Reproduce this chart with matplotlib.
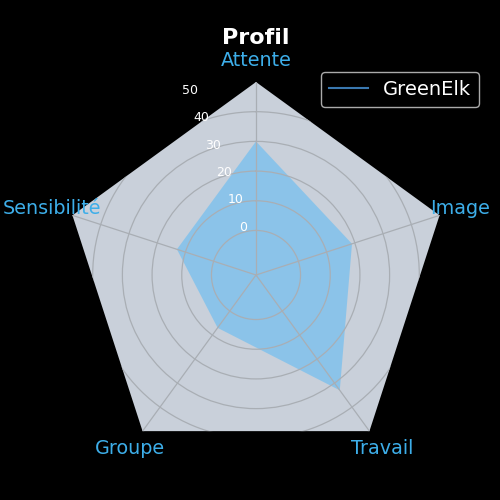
import numpy as np
import matplotlib
matplotlib.use("Agg")
import matplotlib.pyplot as plt
from matplotlib.patches import RegularPolygon
from matplotlib.path import Path
from matplotlib.projections import register_projection
from matplotlib.projections.polar import PolarAxes
from matplotlib.spines import Spine
from matplotlib.transforms import Affine2D

categories = ["Attente", "Image", "Travail", "Groupe", "Sensibilité"]
values = [30, 19, 33, 7, 13]
series_name = "GreenElk"
r_ticks = [0, 10, 20, 30, 40, 50]
r_min, r_max = -15, 50

N = len(categories)


class RadarAxes(PolarAxes):
    """Polar axes with a pentagon frame (grid circles get clipped to it)."""
    name = "radar"

    def _gen_axes_patch(self):
        return RegularPolygon((0.5, 0.5), N, radius=0.5, edgecolor="none")

    def _gen_axes_spines(self):
        spine = Spine(axes=self, spine_type="circle",
                      path=Path.unit_regular_polygon(N))
        spine.set_transform(Affine2D().scale(0.5).translate(0.5, 0.5)
                            + self.transAxes)
        return {"polar": spine}


register_projection(RadarAxes)

angles = np.linspace(0, 2 * np.pi, N, endpoint=False)
closed_angles = np.concatenate([angles, angles[:1]])
closed_values = values + values[:1]

fig = plt.figure(figsize=(5, 5), dpi=100, facecolor="black")
ax = fig.add_axes([0.126, 0.064, 0.772, 0.772], projection="radar")
ax.set_theta_offset(np.pi / 2)
ax.set_theta_direction(-1)
ax.set_facecolor("#c9d0da")
ax.spines["polar"].set_visible(False)

line, = ax.plot(closed_angles, closed_values, color="#3a78b0",
                linewidth=0, label=series_name)
ax.fill(closed_angles, closed_values, color="#4fb8f8", alpha=0.5,
        linewidth=0)

ax.set_ylim(r_min, r_max)
ax.set_rgrids(r_ticks, labels=[str(t) for t in r_ticks],
              color="white", fontsize=9)
ax.set_rlabel_position(-22.5)
ax.set_xticks(angles)
ax.set_xticklabels(categories, color="#3daee9", fontsize=13.8)
ax.tick_params(axis="x", pad=5)
ax.grid(color="#a9aeb4", linewidth=0.9)

fig.text(0.512, 0.925, "Profil", color="white", fontsize=16,
         fontweight="bold", ha="center", va="center")

leg = fig.legend(loc="upper right", bbox_to_anchor=(0.958, 0.856),
                 borderaxespad=0, fontsize=14, facecolor="black",
                 edgecolor="#aaaaaa", labelcolor="white", framealpha=1)
leg.get_lines()[0].set_linewidth(1.5)

fig.savefig("out.png", dpi=100, facecolor="black")
